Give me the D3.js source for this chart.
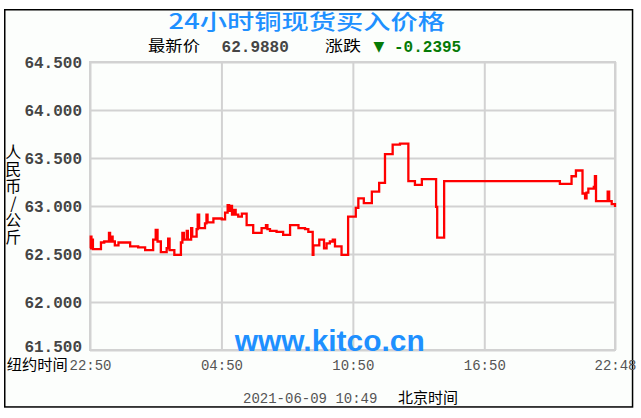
<!DOCTYPE html>
<html><head><meta charset="utf-8">
<script src="https://cdn.jsdelivr.net/npm/d3@7"></script>
<style>
html,body{margin:0;padding:0;background:#fff;}
svg{display:block;}
</style></head><body>
<svg id="chart" width="641" height="418"></svg>
<script>
const title = "24小时铜现货买入价格";
const latestLabel = "最新价";
const latestPrice = "62.9880";
const changeLabel = "涨跌";
const change = "-0.2395";
const updateTime = "2021-06-09 10:49";
const yTitle = "人民币/公斤";
const yTicks = [61.5, 62.0, 62.5, 63.0, 63.5, 64.0, 64.5];
const xTickMinutes = [0, 360, 720, 1080, 1438];
const xTickLabels = ["22:50", "04:50", "10:50", "16:50", "22:48"];
// minutes since 22:50 (New York time)
const minutes = [
  0, 2, 4, 6, 8, 30, 39, 52, 55, 59,
  62, 68, 78, 110, 132, 151, 173, 180, 185, 194,
  210, 214, 218, 231, 249, 253, 257, 265, 268, 277,
  280, 292, 295, 299, 315, 319, 322, 338, 361, 370,
  377, 381, 385, 389, 394, 399, 406, 416, 429, 447,
  470, 482, 486, 493, 511, 529, 548, 571, 589, 598,
  610, 612, 628, 641, 648, 657, 665, 671, 689, 707,
  728, 735, 750, 772, 792, 808, 829, 849, 872, 890,
  909, 948, 951, 970, 1287, 1319, 1331, 1349, 1356, 1360,
  1365, 1380, 1383, 1386, 1418, 1422, 1429, 1438
];
const prices = [
  62.56, 62.68, 62.56, 62.65, 62.55, 62.62, 62.63, 62.72, 62.63, 62.68,
  62.63, 62.59, 62.62, 62.58, 62.57, 62.54, 62.65, 62.75, 62.63, 62.52,
  62.56, 62.66, 62.54, 62.49, 62.62, 62.72, 62.65, 62.74, 62.65, 62.77,
  62.68, 62.76, 62.91, 62.77, 62.82, 62.91, 62.83, 62.87, 62.86, 62.93,
  63.01, 62.95, 63.00, 62.91, 62.96, 62.91, 62.89, 62.92, 62.80, 62.72,
  62.77, 62.80, 62.76, 62.74, 62.73, 62.70, 62.80, 62.77, 62.76, 62.73,
  62.49, 62.59, 62.65, 62.56, 62.61, 62.63, 62.65, 62.58, 62.49, 62.89,
  62.98, 63.08, 63.03, 63.15, 63.24, 63.54, 63.64, 63.65, 63.26, 63.22,
  63.28, 62.99, 62.67, 63.26, 63.23, 63.31, 63.37, 63.13, 63.08, 63.14,
  63.18, 63.20, 63.31, 63.05, 63.15, 63.05, 63.02, 62.99
];

const data = minutes.map((m, i) => [m, prices[i]]);
const svg = d3.select("#chart");
const P = {left: 90, right: 615, top: 62, bottom: 350};
const x = d3.scaleLinear().domain([0, 1438]).range([P.left, P.right]);
const y = d3.scaleLinear().domain([61.5, 64.5]).range([P.bottom, P.top]);
const cjk = "'Noto Sans CJK SC', sans-serif";
const mono = "'Liberation Mono', 'DejaVu Sans Mono', monospace";
const blue = "#1e90ff";

// outer frame
svg.append("rect").attr("x", 4.75).attr("y", 9.75).attr("width", 627.8).attr("height", 397.2)
  .attr("fill", "#fcfefc").attr("stroke", "#000").attr("stroke-width", 1.5);

// grid
const gridColor = "#d2d2d2";
const gy = svg.append("g").attr("transform", `translate(${P.left},0)`)
  .call(d3.axisLeft(y).tickValues(yTicks).tickSize(-(P.right - P.left)).tickFormat(""));
gy.select(".domain").remove();
gy.selectAll("line").attr("stroke", gridColor).attr("stroke-width", 2);
const gx = svg.append("g").attr("transform", `translate(0,${P.bottom})`)
  .call(d3.axisBottom(x).tickValues(xTickMinutes).tickSize(-(P.bottom - P.top)).tickFormat(""));
gx.select(".domain").remove();
gx.selectAll("line").attr("stroke", gridColor).attr("stroke-width", 2);
svg.append("rect").attr("x", P.left).attr("y", P.top).attr("width", P.right - P.left)
  .attr("height", P.bottom - P.top).attr("fill", "none").attr("stroke", gridColor).attr("stroke-width", 2);

// y labels
const ya = svg.append("g").attr("transform", `translate(${P.left},0)`)
  .call(d3.axisLeft(y).tickValues(yTicks).tickSize(0).tickPadding(8).tickFormat(d3.format(".3f")));
ya.select(".domain").remove();
ya.selectAll("text").attr("font-family", mono).attr("font-size", 16).attr("font-weight", "bold")
  .attr("fill", "#454545").attr("dy", "0.32em");
ya.selectAll(".tick").filter(d => d === 61.5).select("text").attr("dy", "0.08em");

// x labels
const xa = svg.append("g").attr("transform", `translate(0,${P.bottom})`)
  .call(d3.axisBottom(x).tickValues(xTickMinutes).tickSize(0).tickPadding(10)
    .tickFormat((d, i) => xTickLabels[i]));
xa.select(".domain").remove();
xa.selectAll("text").attr("font-family", mono).attr("font-size", 14).attr("fill", "#555");

// line
svg.append("path").datum(data)
  .attr("fill", "none").attr("stroke", "#ff0000").attr("stroke-width", 2.3)
  .attr("d", d3.line().x(d => x(d[0])).y(d => y(d[1])).curve(d3.curveStepAfter));

// watermark
svg.append("text").attr("x", 234.7).attr("y", 351).text("www.kitco.cn")
  .attr("font-family", "'Liberation Sans', Arial, sans-serif").attr("font-weight", "bold")
  .attr("font-size", 29).attr("fill", blue).attr("textLength", 190).attr("lengthAdjust", "spacingAndGlyphs");

// title
svg.append("text").attr("x", 168.6).attr("y", 29).text(title)
  .attr("font-family", cjk).attr("font-size", 21).attr("font-weight", 500).attr("fill", blue)
  .attr("textLength", 276.4).attr("lengthAdjust", "spacingAndGlyphs");

// latest row
svg.append("text").attr("x", 148).attr("y", 50.5).text(latestLabel)
  .attr("font-family", cjk).attr("font-size", 15).attr("fill", "#000")
  .attr("textLength", 52).attr("lengthAdjust", "spacingAndGlyphs");
svg.append("text").attr("x", 221.6).attr("y", 51.5).text(latestPrice)
  .attr("font-family", mono).attr("font-size", 16).attr("font-weight", "bold").attr("fill", "#454545");
svg.append("text").attr("x", 325).attr("y", 50.5).text(changeLabel)
  .attr("font-family", cjk).attr("font-size", 15).attr("fill", "#000")
  .attr("textLength", 36).attr("lengthAdjust", "spacingAndGlyphs");
svg.append("text").attr("x", 373.5).attr("y", 50.5).text("▼")
  .attr("font-family", "'DejaVu Sans', sans-serif").attr("font-size", 14).attr("fill", "#067a06");
svg.append("text").attr("x", 394).attr("y", 51.5).text(change)
  .attr("font-family", mono).attr("font-size", 16).attr("font-weight", "bold").attr("fill", "#067a06");

// y title (vertical)
svg.append("text").attr("x", 13.3).attr("y", 144).text(yTitle)
  .attr("style", "writing-mode: vertical-rl; text-orientation: upright;")
  .attr("font-family", cjk).attr("font-size", 16).attr("letter-spacing", 1).attr("fill", "#000");

// x axis name
svg.append("text").attr("x", 6.7).attr("y", 370).text("纽约时间")
  .attr("font-family", cjk).attr("font-size", 14.5).attr("fill", "#000")
  .attr("textLength", 61).attr("lengthAdjust", "spacingAndGlyphs");

// bottom timestamp
svg.append("text").attr("x", 243).attr("y", 403).text(updateTime)
  .attr("font-family", mono).attr("font-size", 14).attr("fill", "#555");
svg.append("text").attr("x", 398).attr("y", 403).text("北京时间")
  .attr("font-family", cjk).attr("font-size", 15).attr("fill", "#000");
</script>
</body></html>
